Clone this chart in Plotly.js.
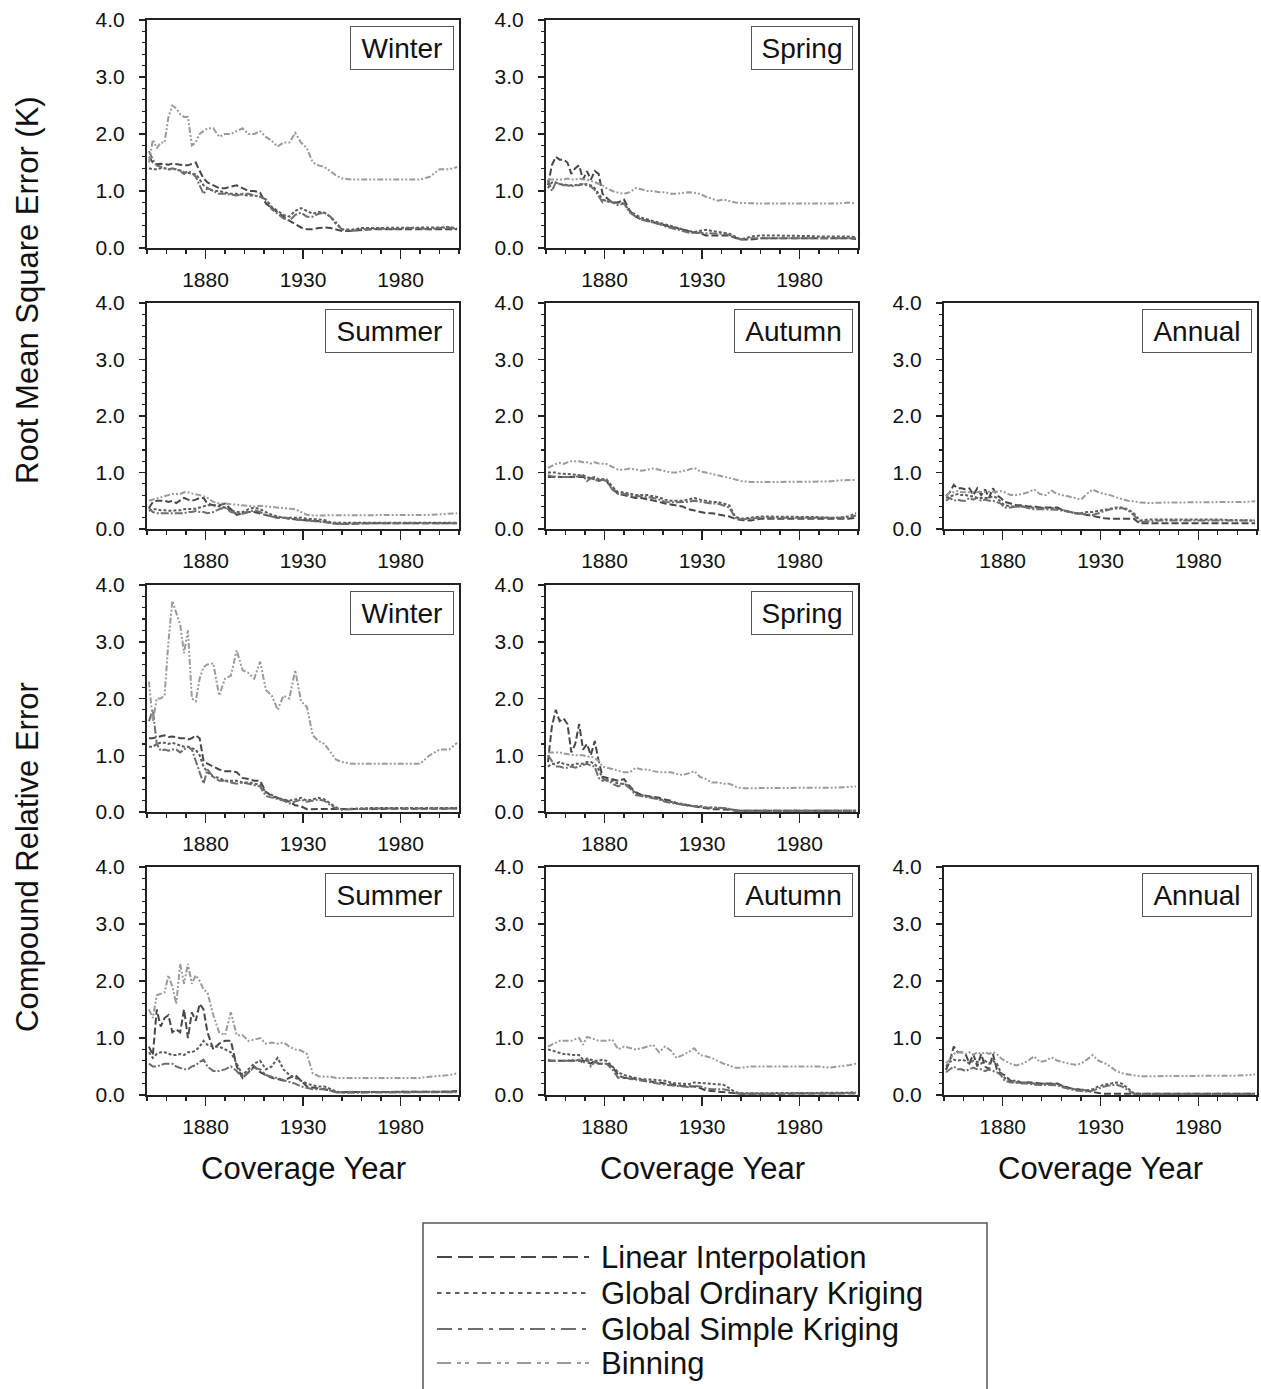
<!DOCTYPE html>
<html><head><meta charset="utf-8">
<script src="https://cdn.plot.ly/plotly-3.0.1.min.js"></script>
<style>html,body{margin:0;padding:0;background:#fff}#chart{width:1261px;height:1389px}</style>
</head><body><div id="chart"></div>
<script>
// ---------------- DATA ----------------
const years = [1851,1853,1855,1857,1859,1861,1863,1865,1867,1869,
  1871,1873,1875,1877,1879,1881,1884,1887,1890,1893,
  1896,1899,1902,1905,1908,1911,1914,1917,1920,1923,
  1926,1929,1932,1935,1938,1941,1944,1947,1950,1955,
  1960,1965,1970,1975,1980,1985,1990,1995,2000,2005,2009];

const seriesNames = ['Linear Interpolation','Global Ordinary Kriging','Global Simple Kriging','Binning'];
const xTickVals = [1880,1930,1980];
const yTickVals = [0,1,2,3,4];

// Root Mean Square Error (K) — Winter
const rmseWinterLI = [1.6,1.5,1.47,1.48,1.47,1.46,1.48,1.47,1.45,1.45, 1.45,1.48,1.5,1.35,1.22,1.15,1.1,1.05,1.05,1.08, 1.1,1.05,1.0,1.0,0.97,0.78,0.7,0.62,0.55,0.48, 0.42,0.36,0.33,0.33,0.35,0.36,0.35,0.32,0.3,0.3, 0.32,0.33,0.33,0.33,0.33,0.34,0.33,0.33,0.34,0.33,0.33];
const rmseWinterOK = [1.4,1.38,1.38,1.4,1.4,1.38,1.38,1.38,1.36,1.33, 1.32,1.3,1.3,1.2,1.1,1.05,1.0,1.0,0.97,0.95, 0.95,0.93,0.92,0.92,0.9,0.85,0.72,0.65,0.58,0.55, 0.65,0.7,0.65,0.6,0.63,0.62,0.55,0.42,0.33,0.32, 0.35,0.35,0.36,0.35,0.35,0.36,0.35,0.35,0.36,0.37,0.34];
const rmseWinterSK = [1.7,1.55,1.45,1.42,1.4,1.38,1.4,1.38,1.35,1.3, 1.35,1.32,1.25,1.1,0.95,1.05,1.0,0.95,0.95,0.93, 0.92,0.95,0.95,0.92,0.9,0.85,0.68,0.6,0.52,0.48, 0.58,0.62,0.55,0.55,0.6,0.62,0.55,0.45,0.32,0.3, 0.33,0.33,0.34,0.33,0.34,0.35,0.34,0.33,0.35,0.36,0.33];
const rmseWinterBIN = [1.5,1.9,1.75,1.85,1.85,2.3,2.5,2.45,2.35,2.3, 2.3,1.8,1.85,2.0,2.05,2.1,2.1,1.95,2.0,2.0, 2.05,2.1,2.0,2.0,2.05,1.95,1.88,1.78,1.85,1.85, 2.02,1.85,1.75,1.5,1.45,1.42,1.35,1.27,1.22,1.2, 1.2,1.2,1.2,1.2,1.2,1.2,1.2,1.25,1.38,1.38,1.42];

// RMSE — Spring
const rmseSpringLI = [1.1,1.45,1.6,1.55,1.55,1.5,1.3,1.4,1.45,1.2, 1.35,1.2,1.35,1.3,0.95,0.88,0.8,0.8,0.85,0.65, 0.55,0.5,0.48,0.45,0.43,0.4,0.37,0.35,0.32,0.3, 0.27,0.26,0.22,0.22,0.22,0.22,0.22,0.18,0.15,0.15, 0.17,0.17,0.17,0.17,0.17,0.18,0.17,0.17,0.18,0.17,0.16];
const rmseSpringOK = [1.05,1.15,1.15,1.12,1.12,1.1,1.1,1.1,1.12,1.12, 1.12,1.1,1.05,0.95,0.85,0.82,0.8,0.8,0.78,0.65, 0.58,0.53,0.5,0.48,0.45,0.42,0.38,0.35,0.32,0.3, 0.28,0.3,0.32,0.3,0.28,0.27,0.25,0.2,0.15,0.2, 0.22,0.22,0.22,0.21,0.22,0.21,0.2,0.2,0.21,0.2,0.19];
const rmseSpringSK = [1.2,1.0,1.15,1.12,1.1,1.1,1.08,1.1,1.1,1.12, 1.1,1.08,1.02,0.9,0.8,0.85,0.8,0.75,0.78,0.62, 0.55,0.5,0.47,0.45,0.42,0.38,0.35,0.32,0.29,0.27, 0.26,0.27,0.26,0.25,0.25,0.25,0.23,0.18,0.15,0.17, 0.17,0.17,0.17,0.17,0.17,0.17,0.17,0.17,0.17,0.17,0.17];
const rmseSpringBIN = [1.2,1.2,1.2,1.2,1.2,1.22,1.2,1.2,1.22,1.2, 1.2,1.18,1.15,1.12,1.1,1.05,1.0,0.97,0.95,0.98, 1.05,1.03,1.0,1.0,0.98,0.98,0.95,0.95,0.96,0.98, 0.97,0.95,0.9,0.86,0.83,0.85,0.82,0.8,0.79,0.78, 0.78,0.78,0.78,0.78,0.78,0.78,0.78,0.78,0.78,0.8,0.78];

// RMSE — Summer
const rmseSummerLI = [0.37,0.48,0.5,0.5,0.5,0.48,0.5,0.46,0.5,0.55, 0.52,0.5,0.52,0.55,0.55,0.45,0.42,0.42,0.45,0.35, 0.25,0.28,0.3,0.3,0.27,0.25,0.22,0.2,0.2,0.18, 0.17,0.16,0.15,0.14,0.14,0.13,0.1,0.09,0.09,0.1, 0.1,0.1,0.1,0.1,0.1,0.1,0.1,0.1,0.1,0.1,0.1];
const rmseSummerOK = [0.32,0.35,0.35,0.33,0.33,0.32,0.32,0.33,0.33,0.35, 0.35,0.35,0.36,0.38,0.4,0.42,0.42,0.4,0.38,0.33, 0.3,0.3,0.35,0.38,0.35,0.3,0.25,0.22,0.2,0.2, 0.2,0.2,0.18,0.18,0.17,0.16,0.12,0.11,0.11,0.11, 0.11,0.11,0.11,0.11,0.11,0.11,0.11,0.11,0.11,0.11,0.11];
const rmseSummerSK = [0.38,0.3,0.28,0.28,0.28,0.27,0.28,0.27,0.28,0.28, 0.3,0.3,0.32,0.3,0.3,0.28,0.3,0.35,0.38,0.3, 0.28,0.27,0.3,0.33,0.3,0.25,0.22,0.2,0.2,0.18, 0.17,0.16,0.15,0.14,0.13,0.12,0.1,0.09,0.09,0.09, 0.1,0.1,0.1,0.1,0.1,0.1,0.1,0.1,0.1,0.1,0.1];
const rmseSummerBIN = [0.5,0.52,0.55,0.57,0.58,0.6,0.62,0.62,0.62,0.65, 0.65,0.63,0.62,0.6,0.58,0.55,0.48,0.45,0.45,0.44, 0.43,0.43,0.42,0.4,0.41,0.4,0.4,0.39,0.38,0.36, 0.35,0.3,0.25,0.24,0.24,0.24,0.24,0.24,0.24,0.24, 0.24,0.24,0.24,0.24,0.24,0.24,0.24,0.25,0.26,0.27,0.28];

// RMSE — Autumn
const rmseAutumnLI = [0.92,0.92,0.92,0.92,0.92,0.92,0.92,0.92,0.92,0.92, 0.9,0.9,0.88,0.85,0.88,0.85,0.72,0.62,0.6,0.58, 0.55,0.55,0.53,0.5,0.48,0.45,0.43,0.42,0.4,0.35, 0.33,0.3,0.28,0.28,0.26,0.25,0.22,0.18,0.16,0.15, 0.18,0.18,0.18,0.18,0.18,0.17,0.18,0.17,0.17,0.18,0.2];
const rmseAutumnOK = [1.0,1.0,1.0,0.98,0.98,0.97,0.97,0.96,0.95,0.95, 0.92,0.9,0.92,0.88,0.88,0.88,0.75,0.65,0.65,0.62, 0.6,0.6,0.6,0.58,0.56,0.52,0.5,0.5,0.5,0.52, 0.55,0.52,0.5,0.48,0.48,0.45,0.42,0.22,0.18,0.2, 0.22,0.22,0.22,0.22,0.22,0.22,0.21,0.2,0.2,0.22,0.28];
const rmseAutumnSK = [0.95,0.93,0.93,0.92,0.92,0.92,0.92,0.92,0.93,0.95, 0.85,0.9,0.88,0.85,0.87,0.85,0.7,0.62,0.62,0.6, 0.58,0.58,0.57,0.55,0.52,0.48,0.47,0.47,0.47,0.48, 0.5,0.48,0.46,0.45,0.45,0.42,0.38,0.2,0.17,0.18, 0.2,0.2,0.2,0.2,0.19,0.19,0.19,0.19,0.19,0.2,0.24];
const rmseAutumnBIN = [1.08,1.12,1.15,1.17,1.15,1.18,1.2,1.2,1.2,1.18, 1.18,1.16,1.18,1.16,1.15,1.15,1.1,1.05,1.05,1.07, 1.05,1.03,1.05,1.07,1.05,1.02,1.0,1.0,1.02,1.05, 1.08,1.02,1.0,0.97,0.95,0.93,0.9,0.87,0.85,0.83, 0.83,0.83,0.83,0.83,0.83,0.83,0.83,0.84,0.86,0.86,0.87];

// RMSE — Annual
const rmseAnnualLI = [0.58,0.65,0.78,0.72,0.72,0.7,0.72,0.6,0.72,0.6, 0.7,0.55,0.72,0.6,0.55,0.48,0.45,0.42,0.42,0.4, 0.4,0.38,0.38,0.38,0.38,0.33,0.3,0.28,0.27,0.25, 0.22,0.2,0.19,0.18,0.18,0.18,0.18,0.18,0.1,0.1, 0.1,0.1,0.1,0.1,0.1,0.1,0.1,0.1,0.1,0.1,0.1];
const rmseAnnualOK = [0.55,0.58,0.6,0.62,0.6,0.6,0.58,0.58,0.55,0.55, 0.55,0.55,0.58,0.55,0.48,0.42,0.4,0.4,0.4,0.38, 0.38,0.37,0.37,0.37,0.36,0.33,0.3,0.28,0.28,0.3, 0.3,0.32,0.35,0.37,0.38,0.38,0.35,0.28,0.15,0.17, 0.17,0.17,0.17,0.17,0.18,0.17,0.17,0.16,0.16,0.16,0.15];
const rmseAnnualSK = [0.5,0.55,0.5,0.52,0.5,0.5,0.55,0.52,0.55,0.5, 0.52,0.5,0.5,0.48,0.45,0.38,0.38,0.4,0.4,0.37, 0.35,0.35,0.35,0.35,0.34,0.32,0.3,0.28,0.27,0.26, 0.25,0.28,0.32,0.35,0.36,0.37,0.33,0.25,0.12,0.14, 0.15,0.15,0.15,0.15,0.15,0.15,0.15,0.15,0.15,0.15,0.15];
const rmseAnnualBIN = [0.58,0.65,0.65,0.67,0.65,0.65,0.66,0.65,0.65,0.66, 0.65,0.66,0.66,0.66,0.67,0.65,0.6,0.6,0.62,0.65, 0.7,0.62,0.6,0.68,0.62,0.6,0.58,0.55,0.52,0.62, 0.7,0.65,0.62,0.6,0.56,0.53,0.5,0.49,0.47,0.46, 0.47,0.47,0.47,0.47,0.47,0.47,0.47,0.48,0.48,0.48,0.49];

// Compound Relative Error — Winter
const creWinterLI = [1.3,1.3,1.32,1.33,1.35,1.32,1.33,1.32,1.3,1.3, 1.28,1.3,1.35,1.3,0.9,0.85,0.8,0.75,0.72,0.72, 0.7,0.6,0.58,0.55,0.55,0.35,0.28,0.25,0.22,0.18, 0.12,0.1,0.05,0.05,0.05,0.05,0.05,0.05,0.05,0.05, 0.06,0.06,0.06,0.06,0.06,0.06,0.06,0.06,0.06,0.06,0.06];
const creWinterOK = [1.15,1.15,1.2,1.22,1.22,1.2,1.22,1.2,1.18,1.15, 1.15,1.12,1.1,1.0,0.8,0.7,0.62,0.6,0.55,0.55, 0.55,0.52,0.52,0.5,0.48,0.35,0.3,0.25,0.22,0.2, 0.22,0.25,0.2,0.22,0.25,0.22,0.15,0.08,0.05,0.06, 0.07,0.07,0.07,0.07,0.07,0.07,0.07,0.07,0.07,0.07,0.07];
const creWinterSK = [1.6,1.8,1.2,1.08,1.1,1.08,1.1,1.1,1.05,1.1, 1.15,1.1,0.9,0.7,0.5,0.75,0.62,0.55,0.55,0.52, 0.5,0.52,0.5,0.48,0.45,0.28,0.25,0.22,0.2,0.15, 0.18,0.22,0.18,0.2,0.22,0.2,0.12,0.06,0.04,0.05, 0.06,0.06,0.06,0.06,0.06,0.06,0.06,0.06,0.06,0.06,0.06];
const creWinterBIN = [2.3,1.6,2.0,2.0,2.05,3.0,3.72,3.5,3.3,2.8, 3.2,2.0,1.95,2.35,2.55,2.6,2.62,2.05,2.35,2.4, 2.85,2.5,2.45,2.35,2.65,2.15,2.05,1.8,2.05,2.0, 2.5,1.95,1.85,1.35,1.25,1.2,1.05,0.92,0.88,0.85, 0.85,0.85,0.85,0.85,0.85,0.85,0.85,1.0,1.1,1.1,1.22];

// CRE — Spring
const creSpringLI = [0.88,1.5,1.8,1.6,1.65,1.55,1.05,1.2,1.55,1.1, 1.2,1.0,1.25,0.9,0.62,0.6,0.58,0.55,0.58,0.45, 0.35,0.3,0.28,0.27,0.25,0.22,0.2,0.15,0.14,0.12, 0.1,0.08,0.06,0.05,0.05,0.05,0.04,0.02,0.02,0.02, 0.02,0.02,0.02,0.02,0.02,0.02,0.02,0.02,0.02,0.02,0.02];
const creSpringOK = [0.8,0.85,0.85,0.88,0.85,0.83,0.82,0.85,0.85,0.85, 0.88,0.88,0.85,0.75,0.6,0.55,0.55,0.5,0.5,0.45, 0.32,0.3,0.28,0.25,0.23,0.2,0.18,0.15,0.13,0.12, 0.1,0.1,0.08,0.08,0.08,0.07,0.05,0.03,0.02,0.02, 0.02,0.02,0.02,0.02,0.02,0.02,0.02,0.02,0.02,0.02,0.02];
const creSpringSK = [1.0,0.9,0.8,0.8,0.78,0.78,0.8,0.78,0.8,0.82, 0.85,0.82,0.8,0.6,0.55,0.58,0.5,0.45,0.5,0.42, 0.3,0.28,0.26,0.24,0.22,0.18,0.16,0.14,0.12,0.11, 0.1,0.1,0.08,0.07,0.07,0.07,0.05,0.03,0.02,0.02, 0.02,0.02,0.02,0.02,0.02,0.02,0.02,0.02,0.02,0.02,0.02];
const creSpringBIN = [1.05,1.05,1.05,1.05,1.03,1.02,1.0,1.0,1.0,1.0, 0.98,0.98,0.95,0.9,0.8,0.78,0.75,0.72,0.7,0.7, 0.78,0.75,0.75,0.72,0.7,0.7,0.7,0.67,0.65,0.68, 0.72,0.62,0.58,0.52,0.52,0.5,0.5,0.45,0.42,0.42, 0.42,0.42,0.42,0.42,0.42,0.42,0.42,0.42,0.43,0.44,0.45];

// CRE — Summer
const creSummerLI = [0.85,0.7,1.5,1.2,1.35,1.4,1.1,1.15,1.1,1.5, 1.0,1.45,1.3,1.6,1.5,1.1,0.8,0.9,0.95,0.95, 0.5,0.3,0.4,0.5,0.4,0.35,0.3,0.28,0.25,0.3, 0.35,0.25,0.15,0.13,0.12,0.1,0.08,0.05,0.05,0.05, 0.05,0.05,0.06,0.06,0.06,0.06,0.06,0.06,0.06,0.06,0.07];
const creSummerOK = [0.75,0.65,0.72,0.75,0.75,0.72,0.7,0.7,0.72,0.7, 0.75,0.75,0.78,0.85,0.95,0.88,0.85,0.85,0.8,0.75, 0.55,0.35,0.45,0.55,0.6,0.45,0.5,0.65,0.45,0.35, 0.3,0.25,0.2,0.17,0.15,0.15,0.1,0.06,0.05,0.05, 0.05,0.05,0.05,0.05,0.06,0.06,0.06,0.06,0.06,0.06,0.06];
const creSummerSK = [0.55,0.5,0.5,0.52,0.55,0.55,0.55,0.5,0.48,0.45, 0.45,0.5,0.52,0.58,0.62,0.5,0.42,0.42,0.45,0.5, 0.42,0.3,0.4,0.48,0.45,0.35,0.32,0.3,0.26,0.23, 0.2,0.15,0.12,0.1,0.1,0.1,0.08,0.05,0.04,0.04, 0.05,0.05,0.05,0.05,0.05,0.05,0.05,0.05,0.05,0.05,0.05];
const creSummerBIN = [1.5,1.35,1.75,1.78,1.8,2.1,1.9,1.6,2.3,1.95, 2.3,1.95,2.1,2.0,1.85,1.8,1.4,1.1,1.05,1.45, 1.05,1.05,0.95,0.97,1.0,0.9,0.92,0.9,0.92,0.85, 0.8,0.78,0.72,0.38,0.33,0.32,0.32,0.3,0.3,0.3, 0.3,0.3,0.3,0.3,0.3,0.3,0.3,0.32,0.33,0.35,0.38];

// CRE — Autumn
const creAutumnLI = [0.6,0.6,0.6,0.6,0.6,0.6,0.6,0.6,0.6,0.6, 0.58,0.55,0.6,0.55,0.55,0.55,0.5,0.35,0.3,0.3, 0.28,0.26,0.25,0.23,0.22,0.2,0.18,0.17,0.16,0.15, 0.15,0.12,0.08,0.07,0.06,0.05,0.04,0.02,0.02,0.02, 0.02,0.02,0.02,0.02,0.02,0.02,0.02,0.02,0.02,0.02,0.03];
const creAutumnOK = [0.8,0.78,0.75,0.73,0.72,0.72,0.7,0.7,0.7,0.62, 0.6,0.62,0.6,0.6,0.62,0.6,0.5,0.4,0.35,0.32, 0.3,0.28,0.28,0.27,0.26,0.25,0.22,0.2,0.2,0.19, 0.22,0.21,0.2,0.2,0.19,0.18,0.12,0.05,0.03,0.03, 0.03,0.03,0.04,0.04,0.04,0.04,0.04,0.04,0.04,0.04,0.05];
const creAutumnSK = [0.62,0.6,0.6,0.6,0.6,0.6,0.62,0.6,0.62,0.55, 0.65,0.5,0.58,0.55,0.55,0.55,0.45,0.3,0.32,0.28, 0.27,0.25,0.24,0.22,0.2,0.18,0.17,0.16,0.15,0.14, 0.16,0.15,0.12,0.1,0.1,0.1,0.08,0.03,0.02,0.02, 0.02,0.02,0.02,0.02,0.02,0.02,0.02,0.02,0.02,0.02,0.03];
const creAutumnBIN = [0.85,0.88,0.92,0.95,0.95,0.95,0.95,0.98,1.0,0.88, 1.02,1.0,0.97,0.95,0.95,0.95,0.97,0.8,0.85,0.83, 0.8,0.82,0.85,0.88,0.75,0.85,0.78,0.65,0.7,0.75, 0.82,0.7,0.68,0.65,0.6,0.55,0.52,0.48,0.48,0.5, 0.5,0.5,0.5,0.5,0.5,0.5,0.5,0.48,0.5,0.52,0.55];

// CRE — Annual
const creAnnualLI = [0.44,0.6,0.85,0.75,0.75,0.72,0.55,0.72,0.5,0.72, 0.5,0.45,0.72,0.45,0.38,0.35,0.25,0.22,0.22,0.22, 0.22,0.2,0.2,0.2,0.2,0.15,0.12,0.1,0.09,0.08, 0.05,0.03,0.02,0.02,0.02,0.02,0.02,0.02,0.02,0.02, 0.02,0.02,0.02,0.02,0.02,0.02,0.02,0.02,0.02,0.02,0.02];
const creAnnualOK = [0.5,0.58,0.62,0.6,0.62,0.6,0.55,0.6,0.58,0.55, 0.6,0.55,0.6,0.55,0.4,0.3,0.25,0.25,0.22,0.22, 0.2,0.2,0.2,0.2,0.19,0.15,0.12,0.1,0.1,0.08, 0.1,0.15,0.18,0.2,0.22,0.2,0.12,0.03,0.02,0.02, 0.02,0.02,0.02,0.02,0.03,0.02,0.02,0.02,0.02,0.02,0.02];
const creAnnualSK = [0.4,0.45,0.5,0.45,0.45,0.42,0.45,0.48,0.45,0.45, 0.42,0.45,0.42,0.4,0.35,0.25,0.22,0.22,0.2,0.2, 0.18,0.18,0.18,0.18,0.17,0.13,0.1,0.08,0.07,0.06, 0.08,0.12,0.15,0.17,0.18,0.15,0.08,0.02,0.01,0.01, 0.01,0.01,0.01,0.01,0.01,0.01,0.01,0.01,0.01,0.01,0.01];
const creAnnualBIN = [0.56,0.62,0.72,0.75,0.75,0.72,0.75,0.7,0.75,0.72, 0.75,0.72,0.75,0.72,0.65,0.6,0.55,0.52,0.55,0.6, 0.68,0.58,0.6,0.66,0.6,0.57,0.55,0.53,0.55,0.62, 0.7,0.6,0.56,0.5,0.42,0.38,0.36,0.34,0.33,0.33, 0.33,0.33,0.33,0.33,0.33,0.33,0.33,0.34,0.34,0.35,0.36];

// ---------------- LAYOUT ----------------
const W = 1261, H = 1389;
const FONT = 'Liberation Sans, Arial, Helvetica, sans-serif';
const colPx = [[147,459],[546,858],[944,1257]];
const rowPx = [[20,248],[303,529],[585,812],[867,1095]];

const panels = [
  {row:0,col:0,label:'Winter',w:92, data:[rmseWinterLI,rmseWinterOK,rmseWinterSK,rmseWinterBIN]},
  {row:0,col:1,label:'Spring',w:90, data:[rmseSpringLI,rmseSpringOK,rmseSpringSK,rmseSpringBIN]},
  {row:1,col:0,label:'Summer',w:117,data:[rmseSummerLI,rmseSummerOK,rmseSummerSK,rmseSummerBIN]},
  {row:1,col:1,label:'Autumn',w:107,data:[rmseAutumnLI,rmseAutumnOK,rmseAutumnSK,rmseAutumnBIN]},
  {row:1,col:2,label:'Annual',w:98, data:[rmseAnnualLI,rmseAnnualOK,rmseAnnualSK,rmseAnnualBIN]},
  {row:2,col:0,label:'Winter',w:92, data:[creWinterLI,creWinterOK,creWinterSK,creWinterBIN]},
  {row:2,col:1,label:'Spring',w:90, data:[creSpringLI,creSpringOK,creSpringSK,creSpringBIN]},
  {row:3,col:0,label:'Summer',w:117,data:[creSummerLI,creSummerOK,creSummerSK,creSummerBIN]},
  {row:3,col:1,label:'Autumn',w:107,data:[creAutumnLI,creAutumnOK,creAutumnSK,creAutumnBIN]},
  {row:3,col:2,label:'Annual',w:98, data:[creAnnualLI,creAnnualOK,creAnnualSK,creAnnualBIN]}
];

const styles = [
  {color:'#474747', dash:'7px,3px',              legendDash:'15px,6px'},
  {color:'#5c5c5c', dash:'3px,2px',              legendDash:'4.5px,4.5px'},
  {color:'#6e6e6e', dash:'8px,2px,2px,2px',      legendDash:'15px,6px,4px,6px'},
  {color:'#9b9b9b', dash:'6px,2px,2px,2px,2px,2px', legendDash:'14px,6px,4px,4px,4px,8px'}
];

const px2x = p => p / W;
const py2y = p => 1 - p / H;

const traces = [];
const layout = {
  width: W, height: H,
  margin: {l:0, r:0, t:0, b:0},
  paper_bgcolor: '#ffffff', plot_bgcolor: '#ffffff',
  showlegend: false,
  font: {family: FONT, color: '#111', size: 21},
  annotations: [], shapes: []
};

panels.forEach((p, i) => {
  const n = i + 1;
  const xa = 'x' + n, ya = 'y' + n;
  p.data.forEach((vals, s) => {
    traces.push({
      type: 'scatter', mode: 'lines',
      x: years, y: vals, name: seriesNames[s],
      xaxis: xa, yaxis: ya,
      line: {color: styles[s].color, width: 2, dash: styles[s].dash},
      hoverinfo: 'skip'
    });
  });
  const cx = colPx[p.col], ry = rowPx[p.row];
  layout['xaxis' + n] = {
    domain: [px2x(cx[0]), px2x(cx[1])],
    anchor: ya, range: [1850, 2010],
    tickmode: 'array', tickvals: xTickVals,
    ticks: 'outside', ticklen: 9, tickwidth: 1.5, tickcolor: '#222',
    minor: {tickmode: 'linear', tick0: 1850, dtick: 10, ticks: 'outside', ticklen: 4, tickwidth: 1.2, tickcolor: '#222'},
    showline: true, mirror: true, linecolor: '#222', linewidth: 2,
    showgrid: false, zeroline: false,
    tickfont: {family: FONT, size: 21, color: '#111'},
    ticklabelstandoff: 3
  };
  layout['yaxis' + n] = {
    domain: [py2y(ry[1]), py2y(ry[0])],
    anchor: xa, range: [0, 4],
    tickmode: 'array', tickvals: yTickVals, tickformat: '.1f',
    ticks: 'outside', ticklen: 6, tickwidth: 1.5, tickcolor: '#222',
    minor: {tickmode: 'linear', tick0: 0, dtick: 0.2, ticks: 'outside', ticklen: 3, tickwidth: 1.2, tickcolor: '#222'},
    showline: true, mirror: true, linecolor: '#222', linewidth: 2,
    showgrid: false, zeroline: false,
    tickfont: {family: FONT, size: 21, color: '#111'},
    ticklabelstandoff: 10
  };
  layout.annotations.push({
    xref: xa + ' domain', yref: ya + ' domain', x: 1, y: 1,
    xanchor: 'right', yanchor: 'top', xshift: -5, yshift: -6,
    text: p.label, showarrow: false,
    font: {family: FONT, size: 28, color: '#111'},
    bordercolor: '#555', borderwidth: 1, borderpad: 5,
    width: p.w, height: 32, bgcolor: '#ffffff'
  });
});

// Row titles
layout.annotations.push({
  xref: 'paper', yref: 'paper', x: px2x(27), y: py2y(290),
  text: 'Root Mean Square Error (K)', textangle: -90, showarrow: false,
  font: {family: FONT, size: 31, color: '#111'}, xanchor: 'center', yanchor: 'middle'
});
layout.annotations.push({
  xref: 'paper', yref: 'paper', x: px2x(27), y: py2y(857),
  text: 'Compound Relative Error', textangle: -90, showarrow: false,
  font: {family: FONT, size: 31, color: '#111'}, xanchor: 'center', yanchor: 'middle'
});
// Column x titles
[303, 702, 1100].forEach(cx => {
  layout.annotations.push({
    xref: 'paper', yref: 'paper', x: px2x(cx), y: py2y(1168),
    text: 'Coverage Year', showarrow: false,
    font: {family: FONT, size: 31, color: '#111'}, xanchor: 'center', yanchor: 'middle'
  });
});

// Legend (drawn as a key box)
layout.shapes.push({
  type: 'rect', xref: 'paper', yref: 'paper',
  x0: px2x(423), x1: px2x(987), y0: py2y(1400), y1: py2y(1223),
  line: {color: '#555', width: 1.5}, fillcolor: 'rgba(0,0,0,0)'
});
const legendRowsY = [1257, 1293, 1329, 1363];
seriesNames.forEach((name, s) => {
  layout.shapes.push({
    type: 'line', xref: 'paper', yref: 'paper',
    x0: px2x(437), x1: px2x(589), y0: py2y(legendRowsY[s]), y1: py2y(legendRowsY[s]),
    line: {color: styles[s].color, width: 1.8, dash: styles[s].legendDash}
  });
  layout.annotations.push({
    xref: 'paper', yref: 'paper', x: px2x(599), y: py2y(legendRowsY[s]),
    text: name, showarrow: false, xanchor: 'left', yanchor: 'middle',
    font: {family: FONT, size: 31, color: '#111'}
  });
});

Plotly.newPlot('chart', traces, layout, {staticPlot: true, displayModeBar: false});
</script>
</body></html>
